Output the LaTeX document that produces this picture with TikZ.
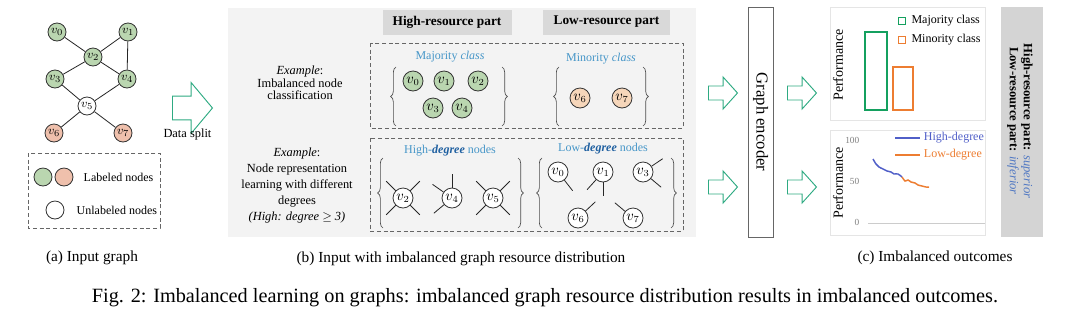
\documentclass[tikz,border=0pt]{standalone}
\usepackage{amsmath,amssymb}
\usepackage{fontspec}
\setmainfont{Liberation Serif}
\usepackage{tikz}
\usetikzlibrary{arrows.meta, positioning, shapes.arrows, decorations.pathreplacing}

\definecolor{nodegreen}{RGB}{186,214,176}
\definecolor{nodepink}{RGB}{239,192,172}
\definecolor{nodepeach}{RGB}{246,214,186}
\definecolor{splitgreen}{RGB}{46,170,130}
\definecolor{textblue}{RGB}{70,150,200}
\definecolor{degblue}{RGB}{30,95,160}
\definecolor{panelgray}{RGB}{243,243,243}
\definecolor{headgray}{RGB}{217,217,217}
\definecolor{sidegray}{RGB}{212,212,212}
\definecolor{bargreen}{RGB}{20,160,95}
\definecolor{barorange}{RGB}{237,125,49}
\definecolor{lineblue}{RGB}{80,95,200}
\definecolor{resblue}{RGB}{80,120,195}

\begin{document}
\begin{tikzpicture}[x=0.75pt, y=-0.75pt,
    gnode/.style={circle, draw=black!80, line width=0.6pt, minimum size=13.5pt, inner sep=0pt, font=\fontsize{9.5}{9.5}\selectfont},
    bnode/.style={gnode, minimum size=15pt, font=\fontsize{10.5}{10.5}\selectfont},
    link/.style={line width=0.6pt, black!85},
    spoke/.style={line width=0.6pt, black!85},
    dashbox/.style={draw=black!60, densely dashed, line width=0.5pt},
    brc/.style={decorate, decoration={brace, amplitude=4pt}, line width=0.5pt, black!70},
    hollow/.style={single arrow, draw=splitgreen, fill=white, line width=0.7pt, inner xsep=0pt, anchor=tail},
    bigarrow/.style={hollow, minimum height=30pt, inner ysep=8.6pt, single arrow head extend=10.1pt, single arrow tip angle=100},
    smallarrow/.style={hollow, minimum height=21.75pt, inner ysep=4.9pt, single arrow head extend=6.75pt, single arrow tip angle=96},
    txt/.style={font=\fontsize{9.3}{10.5}\selectfont, align=center},
    bluetxt/.style={font=\fontsize{9}{10}\selectfont, text=textblue},
    headbox/.style={fill=headgray, minimum height=18.75pt, font=\fontsize{10}{12}\selectfont\bfseries},
    subcap/.style={font=\fontsize{11.5}{13}\selectfont},
    charttxt/.style={font=\fontsize{9}{10}\selectfont},
    chartbox/.style={draw=black!10, fill=white},
    legsq/.style={minimum size=5pt, inner sep=0pt, line width=1.2pt, fill=white},
]
  \fill[white] (0,0) rectangle (1080,315);
  \useasboundingbox (0,0) rectangle (1080,315);

  % (a) input graph
  \foreach \n/\x/\y/\c in {0/57/32/nodegreen, 1/128/32/nodegreen, 2/93/57/nodegreen, 3/55/79/nodegreen,
                           4/127/79/nodegreen, 5/87/106/white, 6/54/133/nodepink, 7/123/133/nodepink} {
      \node[gnode, fill=\c] (v\n) at (\x,\y) {$v_{\n}$};
  }
  \foreach \a/\b in {v0/v2, v1/v2, v1/v4, v2/v3, v2/v4, v3/v5, v4/v5, v5/v6, v5/v7} {
      \draw[link] (\a) -- (\b);
  }

  % Legend
  \draw[dashbox] (28,153) rectangle (160,228);
  \node[gnode, fill=nodegreen] (lg1) at (43,177) {};
  \node[gnode, fill=nodepink] (lg2) at (64,177) {};
  \node[charttxt, anchor=west] at (79,177) {Labeled nodes};
  \node[gnode, fill=white] (lg3) at (55,210) {};
  \node[charttxt, anchor=west] at (72,210) {Unlabeled nodes};
  \node[subcap] at (92,258) {(a) Input graph};

  % Data split arrow
  \node[bigarrow] (split) at (172,108) {};
  \node[txt, below=3pt of split.south] {Data split};

  % (b) input with imbalanced resources
  \fill[panelgray] (228,8) rectangle (696,237);
  \node[headbox, minimum width=96.75pt] (hihead) at (447,22) {High-resource part};
  \node[headbox, minimum width=95pt] (lohead) at (606.5,22) {Low-resource part};
  \draw[dashbox] (370,43) rectangle (683,128);
  \draw[dashbox] (370,138) rectangle (683,231);

  \node[txt, font=\fontsize{9.3}{9.5}\selectfont] at (300,83) {\textit{Example}:\\Imbalanced node\\classification};
  \node[txt, font=\fontsize{9.3}{12}\selectfont] at (297,186) {\textit{Example}:\\Node representation\\learning with different\\degrees\\\textit{(High: degree $\geq$ 3)}};

  % Majority / minority class
  \node[bluetxt] at (450,57) {Majority \textit{class}};
  \node[bluetxt] at (601,59) {Minority \textit{class}};
  \foreach \n/\x/\y in {0/413/81, 1/444/81, 2/478/81, 3/433/108, 4/462/108} {
      \node[bnode, fill=nodegreen] (m\n) at (\x,\y) {$v_{\n}$};
  }
  \foreach \n/\x in {6/580, 7/622} {
      \node[bnode, fill=nodepeach] (n\n) at (\x,98) {$v_{\n}$};
  }
  \draw[brc] (396,126) -- (396,67);
  \draw[brc] (502,67) -- (502,126);
  \draw[brc] (559,126) -- (559,67);
  \draw[brc] (643,67) -- (643,126);

  % High / low degree nodes
  \node[bluetxt] at (450,151) {High-\textcolor{degblue}{\textbf{\textit{degree}}} nodes};
  \node[bluetxt] at (603,149) {Low-\textcolor{degblue}{\textbf{\textit{degree}}} nodes};
  \foreach \n/\x in {2/403, 4/452, 5/493} {
      \node[bnode, fill=white] (h\n) at (\x,198) {$v_{\n}$};
  }
  \foreach \n/\x/\y in {0/558/172, 1/603/172, 3/643/172, 6/578/218, 7/633/218} {
      \node[bnode, fill=white] (l\n) at (\x,\y) {$v_{\n}$};
  }
  \foreach \nd/\ang in {h2/45, h2/135, h2/225, h2/315, h4/90, h4/145, h4/220,
                        h5/45, h5/135, h5/225, h5/315,
                        l0/-52, l1/-132, l1/-90, l3/34, l3/-40, l6/43, l7/140} {
      \draw[spoke] (\nd.\ang) -- ++(\ang:10pt);
  }
  \draw[brc] (383,228) -- (383,158);
  \draw[brc] (518,158) -- (518,228);
  \draw[brc] (542,228) -- (542,158);
  \draw[brc] (671,158) -- (671,228);
  \node[subcap] at (461,259) {(b) Input with imbalanced graph resource distribution};

  % Graph encoder
  \node[draw=black!60, fill=white, rotate=-90, minimum width=172.5pt, minimum height=18.75pt,
        font=\fontsize{12.5}{14}\selectfont] (enc) at (760.5,122) {Graph encoder};
  \foreach \y/\nm in {93/top, 187/bot} {
      \node[smallarrow] (in\nm) at (708,\y) {};
      \node[smallarrow] (out\nm) at (787,\y) {};
  }

  % (c) outcomes: class chart
  \draw[chartbox] (830,7) rectangle (985,120);
  \node[charttxt, rotate=90, font=\fontsize{10.5}{12}\selectfont] at (838,65) {Performance};
  \draw[bargreen, line width=1.2pt] (865,32) rectangle (887,110);
  \draw[barorange, line width=1.2pt] (893,67) rectangle (913,110);
  \node[legsq, draw=bargreen] (lgmaj) at (902,21) {};
  \node[charttxt, right=0.5pt of lgmaj] {Majority class};
  \node[legsq, draw=barorange] (lgmin) at (902,40) {};
  \node[charttxt, right=0.5pt of lgmin] {Minority class};

  % (c) outcomes: degree chart
  \draw[chartbox] (830,130) rectangle (985,235);
  \node[charttxt, rotate=90, font=\fontsize{10.5}{12}\selectfont] at (838,183) {Performance};
  \draw[black!20, line width=0.6pt] (868,223) -- (985,223);
  \foreach \y/\label in {140/100, 181/50, 222/0} {
      \node[font=\fontsize{7}{8}\selectfont, text=black!50, anchor=east] at (864,\y) {\label};
  }
  \draw[lineblue, line width=1.1pt] plot[smooth] coordinates {(873,159) (876,164) (879,167) (883,169) (887,171) (891,172) (894,174) (898,174) (902,177)};
  \draw[barorange, line width=1.1pt] plot[smooth] coordinates {(902,177) (905,181) (908,180) (911,182) (915,183) (918,185) (922,186) (926,187) (929,187)};
  \draw[lineblue, line width=1.2pt] (895,138) -- (920,138) node[charttxt, right=-1pt] {High-degree};
  \draw[barorange, line width=1.2pt] (895,155) -- (920,155) node[charttxt, right=-1pt] {Low-degree};

  % Side label
  \node[fill=sidegray, minimum width=31.5pt, minimum height=172.5pt] (side) at (1022,122) {};
  \node[rotate=-90, align=center, font=\fontsize{9.5}{10.5}\selectfont] at (1020,121)
      {\textbf{High-resource part:} \textcolor{resblue}{\textit{superior}}\\
       \textbf{Low-resource part:} \textcolor{resblue}{\textit{inferior}}};
  \node[subcap] at (935,258) {(c) Imbalanced outcomes};

  % Caption
  \node[font=\fontsize{15.2}{17}\selectfont] at (545,298) {Fig. 2: Imbalanced learning on graphs: imbalanced graph resource distribution results in imbalanced outcomes.};
\end{tikzpicture}
\end{document}
